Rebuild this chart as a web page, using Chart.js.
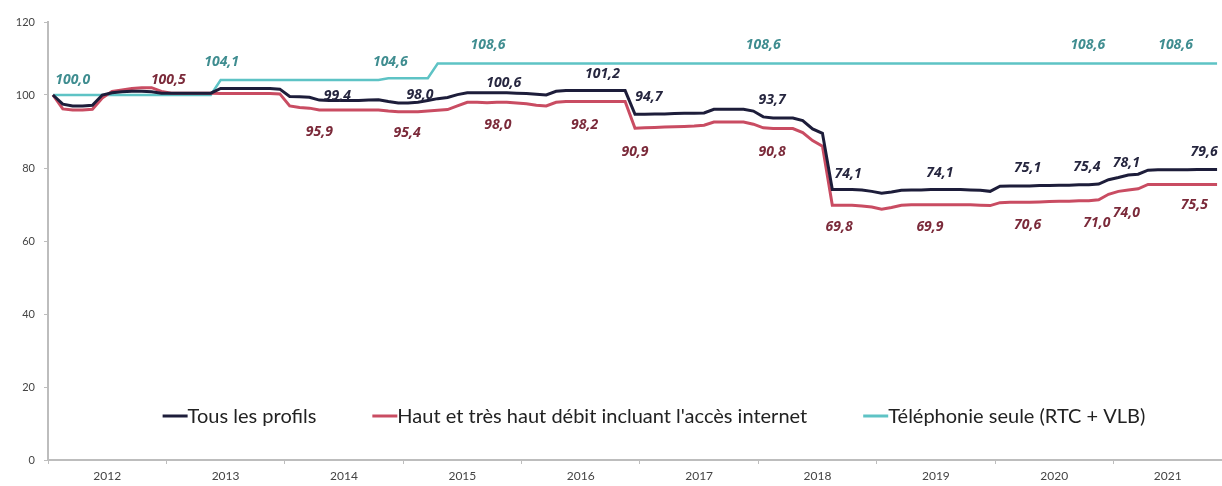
<!DOCTYPE html>
<html>
<head>
<meta charset="utf-8">
<script src="https://cdn.jsdelivr.net/npm/chart.js@4.4.1/dist/chart.umd.min.js"></script>
<style>
  body { margin: 0; background: #fff; }
  #wrap { width: 1222px; height: 486px; }
</style>
</head>
<body>
<div id="wrap"><canvas id="myChart"></canvas></div>
<script>
// un point par mois, janvier 2012 -> novembre 2021
const years = ['2012', '2013', '2014', '2015', '2016', '2017', '2018', '2019', '2020', '2021'];

const tous = [
  100.0, 97.5, 97.0, 97.0, 97.2, 100.0, 100.6, 100.9, 101.0, 101.0, 100.9, 100.5,
  100.5, 100.5, 100.5, 100.5, 100.5, 101.8, 101.8, 101.8, 101.8, 101.8, 101.8, 101.6,
  99.6, 99.5, 99.4, 98.6, 98.5, 98.5, 98.5, 98.5, 98.6, 98.7, 98.2, 97.8,
  97.8, 98.0, 98.5, 99.0, 99.3, 100.1, 100.6, 100.6, 100.6, 100.6, 100.6, 100.5,
  100.4, 100.2, 100.0, 101.0, 101.2, 101.2, 101.2, 101.2, 101.2, 101.2, 101.2, 94.7,
  94.7, 94.8, 94.8, 94.9, 95.0, 95.0, 95.1, 96.1, 96.1, 96.1, 96.1, 95.6,
  94.0, 93.7, 93.7, 93.7, 93.0, 90.7, 89.5, 74.1, 74.1, 74.1, 74.0, 73.6,
  73.1, 73.4, 73.9, 74.0, 74.0, 74.1, 74.1, 74.1, 74.1, 74.0, 73.9, 73.6,
  75.0, 75.1, 75.1, 75.1, 75.2, 75.2, 75.3, 75.3, 75.4, 75.4, 75.6, 76.8,
  77.4, 78.1, 78.3, 79.4, 79.5, 79.5, 79.5, 79.5, 79.6, 79.6, 79.6
];

const debit = [
  100.0, 96.2, 95.9, 95.9, 96.1, 99.2, 101.0, 101.4, 101.8, 102.0, 102.0, 101.0,
  100.5, 100.5, 100.5, 100.5, 100.5, 100.4, 100.4, 100.4, 100.4, 100.4, 100.4, 100.3,
  97.0, 96.6, 96.4, 95.9, 95.9, 95.9, 95.9, 95.9, 95.9, 95.9, 95.6, 95.4,
  95.4, 95.4, 95.6, 95.8, 96.0, 97.0, 98.0, 98.0, 97.9, 98.0, 98.0, 97.8,
  97.6, 97.2, 97.0, 98.0, 98.2, 98.2, 98.2, 98.2, 98.2, 98.2, 98.2, 90.9,
  91.0, 91.1, 91.2, 91.3, 91.4, 91.5, 91.7, 92.6, 92.6, 92.6, 92.6, 92.0,
  91.0, 90.8, 90.8, 90.8, 89.7, 87.5, 86.0, 69.8, 69.8, 69.8, 69.6, 69.3,
  68.7, 69.2, 69.8, 69.9, 69.9, 69.9, 69.9, 69.9, 69.9, 69.9, 69.8, 69.7,
  70.5, 70.6, 70.6, 70.6, 70.7, 70.8, 70.9, 70.9, 71.0, 71.0, 71.3, 72.8,
  73.6, 74.0, 74.3, 75.5, 75.5, 75.5, 75.5, 75.5, 75.5, 75.5, 75.5
];

const telephonie = [
  100.0, 100.0, 100.0, 100.0, 100.0, 100.0, 100.0, 100.0, 100.0, 100.0, 100.0, 100.0,
  100.0, 100.0, 100.0, 100.0, 100.0, 104.1, 104.1, 104.1, 104.1, 104.1, 104.1, 104.1,
  104.1, 104.1, 104.1, 104.1, 104.1, 104.1, 104.1, 104.1, 104.1, 104.1, 104.6, 104.6,
  104.6, 104.6, 104.6, 108.6, 108.6, 108.6, 108.6, 108.6, 108.6, 108.6, 108.6, 108.6,
  108.6, 108.6, 108.6, 108.6, 108.6, 108.6, 108.6, 108.6, 108.6, 108.6, 108.6, 108.6,
  108.6, 108.6, 108.6, 108.6, 108.6, 108.6, 108.6, 108.6, 108.6, 108.6, 108.6, 108.6,
  108.6, 108.6, 108.6, 108.6, 108.6, 108.6, 108.6, 108.6, 108.6, 108.6, 108.6, 108.6,
  108.6, 108.6, 108.6, 108.6, 108.6, 108.6, 108.6, 108.6, 108.6, 108.6, 108.6, 108.6,
  108.6, 108.6, 108.6, 108.6, 108.6, 108.6, 108.6, 108.6, 108.6, 108.6, 108.6, 108.6,
  108.6, 108.6, 108.6, 108.6, 108.6, 108.6, 108.6, 108.6, 108.6, 108.6, 108.6
];

const seriesNames = ['Tous les profils', "Haut et très haut débit incluant l'accès internet", 'Téléphonie seule (RTC + VLB)'];

// mois annotés : s = série, i = mois
const etiquettes = [
  {s: 2, i: 2, dx: 0, dy: -15}, {s: 2, i: 17, dx: 1, dy: -18}, {s: 2, i: 34, dx: 2, dy: -16},
  {s: 2, i: 44, dx: 1, dy: -19}, {s: 2, i: 72, dx: 0, dy: -19}, {s: 2, i: 105, dx: -1, dy: -19},
  {s: 2, i: 114, dx: -2, dy: -19},
  {s: 0, i: 26, dx: 28, dy: -1}, {s: 0, i: 37, dx: 2, dy: -7}, {s: 0, i: 46, dx: -3, dy: -10},
  {s: 0, i: 56, dx: -3, dy: -17}, {s: 0, i: 60, dx: 4, dy: -17}, {s: 0, i: 73, dx: -1, dy: -18},
  {s: 0, i: 81, dx: -4, dy: -16}, {s: 0, i: 90, dx: -1, dy: -17}, {s: 0, i: 99, dx: -2, dy: -18},
  {s: 0, i: 105, dx: -2, dy: -18}, {s: 0, i: 109, dx: -2, dy: -12}, {s: 0, i: 117, dx: -3, dy: -17},
  {s: 1, i: 12, dx: -3, dy: -13}, {s: 1, i: 27, dx: 0, dy: 22}, {s: 1, i: 36, dx: -1, dy: 21},
  {s: 1, i: 45, dx: 1, dy: 23}, {s: 1, i: 54, dx: -1, dy: 23}, {s: 1, i: 59, dx: 0, dy: 24},
  {s: 1, i: 73, dx: -1, dy: 23}, {s: 1, i: 80, dx: -3, dy: 22}, {s: 1, i: 89, dx: -1, dy: 22},
  {s: 1, i: 99, dx: -2, dy: 23}, {s: 1, i: 105, dx: 8, dy: 22}, {s: 1, i: 109, dx: -2, dy: 23},
  {s: 1, i: 116, dx: -3, dy: 21}
];

const lineColors = ['#1d1d3a', '#c94c62', '#5ec3c5'];
const labelColors = ['#26263f', '#7b2a3a', '#3f8d90'];

const nbMois = tous.length;
const toPoints = arr => arr.map((v, i) => ({x: i + 0.5, y: v}));

// ticks: limites d'année (marques) + milieux d'année (libellés)
const yearTicks = [];
const yearLabelAt = {};
years.forEach((y, k) => {
  const start = k * 12;
  const end = Math.min(start + 12, nbMois);
  yearTicks.push({value: start});
  const mid = (start + end) / 2;
  yearTicks.push({value: mid});
  yearLabelAt[mid] = y;
});

const valueLabels = {
  id: 'valueLabels',
  afterDatasetsDraw(chart) {
    const ctx = chart.ctx;
    ctx.save();
    ctx.font = 'italic bold 14px "Noto Sans"';
    ctx.textAlign = 'center';
    ctx.textBaseline = 'middle';
    etiquettes.forEach(e => {
      const pt = chart.getDatasetMeta(e.s).data[e.i];
      const v = chart.data.datasets[e.s].data[e.i].y;
      ctx.fillStyle = labelColors[e.s];
      ctx.fillText(v.toFixed(1).replace('.', ','), pt.x + e.dx, pt.y + e.dy);
    });
    ctx.restore();
  }
};

const innerLegend = {
  id: 'innerLegend',
  afterDraw(chart) {
    const ctx = chart.ctx;
    const area = chart.chartArea;
    ctx.save();
    ctx.font = '20px Lato';
    ctx.textBaseline = 'middle';
    const mark = 25, gap = 56;
    const widths = chart.data.datasets.map(d => mark + ctx.measureText(d.label).width);
    const total = widths.reduce((a, b) => a + b, 0) + gap * (widths.length - 1);
    let x = 654 - total / 2;
    const y = area.bottom - 44;
    chart.data.datasets.forEach((d, k) => {
      ctx.strokeStyle = d.borderColor;
      ctx.lineWidth = 3;
      ctx.beginPath();
      ctx.moveTo(x, y);
      ctx.lineTo(x + mark, y);
      ctx.stroke();
      ctx.fillStyle = '#222';
      ctx.fillText(d.label, x + mark, y + 1);
      x += widths[k] + gap;
    });
    ctx.restore();
  }
};

const ctx = document.getElementById('myChart');

new Chart(ctx, {
  type: 'line',
  data: {
    datasets: [tous, debit, telephonie].map((arr, k) => ({
      label: seriesNames[k],
      data: toPoints(arr),
      borderColor: lineColors[k],
      borderWidth: k === 2 ? 2.5 : 3,
      pointRadius: 0,
      tension: 0,
      fill: false
    }))
  },
  options: {
    responsive: true,
    maintainAspectRatio: false,
    animation: false,
    layout: { padding: { top: 22, right: 0, left: 0, bottom: 0 } },
    scales: {
      x: {
        type: 'linear',
        min: 0,
        max: nbMois,
        afterBuildTicks: axis => { axis.ticks = yearTicks.map(t => ({value: t.value})); },
        afterFit: scale => { scale.height = 26; },
        border: { color: '#bdbdbd', width: 2 },
        grid: {
          drawOnChartArea: false,
          tickLength: 4,
          color: c => (c.tick && c.tick.value % 12 === 0) ? '#bdbdbd' : 'rgba(0,0,0,0)'
        },
        ticks: {
          autoSkip: false,
          maxRotation: 0,
          padding: 5,
          color: '#444',
          font: { size: 12, family: 'Lato' },
          callback: v => yearLabelAt[v] || ''
        }
      },
      y: {
        min: 0,
        max: 120,
        afterFit: scale => { scale.width = 48; },
        border: { color: '#bdbdbd', width: 2 },
        grid: { drawOnChartArea: false, tickLength: 4, color: '#bdbdbd' },
        ticks: {
          stepSize: 20,
          padding: 9,
          color: '#444',
          font: { size: 11, family: 'Lato' }
        }
      }
    },
    plugins: {
      legend: { display: false },
      tooltip: { enabled: false }
    }
  },
  plugins: [valueLabels, innerLegend]
});
</script>
</body>
</html>
